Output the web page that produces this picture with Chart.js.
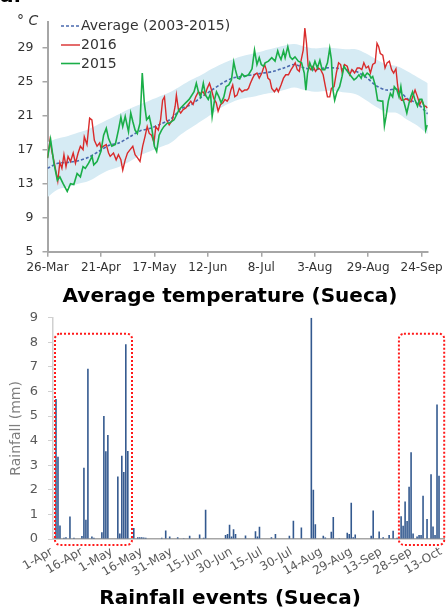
<!DOCTYPE html>
<html><head><meta charset="utf-8">
<script src="https://cdn.jsdelivr.net/npm/chart.js@4/dist/chart.umd.min.js"></script>
<style>
html,body{margin:0;padding:0;background:#fff;}
#wrap{position:relative;width:447px;height:611px;overflow:hidden;background:#fff;}
#c1{position:absolute;left:0;top:0;width:447px;height:311px;}
#c2{position:absolute;left:0;top:300px;width:447px;height:311px;}
</style></head><body>
<div id="wrap">
<canvas id="c1" width="447" height="311"></canvas>
<canvas id="c2" width="447" height="311"></canvas>
</div>
<script>
// ---------- Temperature chart data (day 0 = 26-Mar) ----------
const tempTitle = 'Average temperature (Sueca)';
const tempTickDays = [0, 26, 52, 78, 104, 130, 156, 182];
const tempTickLabels = ['26-Mar', '21-Apr', '17-May', '12-Jun', '8-Jul', '3-Aug', '29-Aug', '24-Sep'];
const tempYTicks = [5, 9, 13, 17, 21, 25, 29];

const bandDays  = [0,5,10,15,20,25,30,35,40,45,50,55,60,65,70,75,80,85,90,95,100,105,110,115,120,125,130,135,140,145,150,155,160,165,170,175,180,185];
const avgTemp   = [14.8,15.4,15.5,15.7,16.1,16.8,17.5,17.8,18.5,19.2,19.5,20.0,20.6,21.8,22.3,23.2,24.0,24.8,25.4,25.6,25.8,26.0,26.2,26.6,27.0,26.6,26.4,26.6,26.6,26.4,26.2,25.5,24.5,24.0,24.1,23.0,22.4,21.2];
const bandUpper = [17.9,18.3,18.6,19.0,19.4,20.0,20.6,21.2,21.8,22.3,22.8,23.3,23.8,24.5,25.2,25.8,26.5,27.1,27.6,28.0,28.3,28.6,28.9,29.2,29.4,29.1,28.9,29.0,28.9,28.8,28.8,28.3,27.6,27.0,26.8,26.2,25.5,24.8];
const bandLower = [11.4,12.3,12.6,13.0,13.3,14.0,14.6,15.0,15.6,16.3,16.8,17.3,17.8,18.8,19.6,20.4,21.2,22.0,22.6,23.0,23.2,23.5,23.7,24.0,24.3,24.0,23.8,23.9,23.9,23.7,23.5,22.8,22.0,21.4,21.3,20.5,19.8,18.8];

const temp2016 = [[0,16],[1.2,18.1],[2.3,16.6],[3.5,15.2],[5,13.3],[6,15.5],[7,14.8],[8,16.4],[9,15],[10,16.2],[11.2,15.6],[12.5,16.6],[13.6,15.4],[14.9,16.6],[16,17.4],[17.3,17],[17.9,18.5],[19.2,17.6],[20.5,20.7],[21.6,20.5],[22.8,18.1],[24.1,17.4],[25.4,17.8],[26,17.2],[27.3,17.4],[28.6,17.6],[29.7,16.6],[30.5,16.2],[32.1,16.6],[33.4,15.8],[34.5,16.4],[35.7,15.8],[36.6,14.6],[37.8,15.8],[38.9,16.6],[40.2,17],[41.5,17.4],[42.6,16.4],[43.9,16],[45,15.6],[46.3,17.4],[47.4,18.5],[48.5,19.7],[49.5,18.9],[50.6,18.7],[51.8,17.8],[52.7,19.7],[53.9,19.3],[55,20.5],[56,22.8],[56.9,23.2],[57.9,20.5],[59.2,19.9],[60.8,20.5],[62.1,22.1],[62.7,23.4],[63.7,21.7],[64.8,21.3],[66,21.7],[67.3,21.9],[68.5,22.3],[69.7,22.7],[70.8,22.3],[72.1,23.2],[73.4,23.8],[74.5,23.6],[75.6,23.8],[76.6,23.4],[77.7,24.2],[78.8,24.8],[79.8,24],[80.9,23],[82.1,22.5],[83,21.5],[84.2,22.3],[85.3,22.5],[86.3,22.9],[87.4,22.7],[88.2,23],[89.2,24],[90.1,24.6],[91.1,23.2],[92.2,23.4],[93.3,24.2],[94.6,23.8],[95.9,24],[97,24],[97.8,24.2],[98.7,24.8],[99.8,25.4],[100.7,25.8],[101.9,26],[103,25.4],[104.3,26],[105.6,27],[106.4,26.4],[107.2,25.4],[108.2,25.2],[109.1,24.2],[110.4,23.8],[111.5,24.2],[112.3,23.8],[113.6,24.6],[114.8,25.4],[115.9,25.8],[117.2,25.8],[118.5,26.4],[119.6,26.8],[120.5,27.2],[121.5,26.4],[122.5,26.2],[123.3,27.4],[124.4,28.7],[125.2,31.3],[126,29.5],[126.8,26.8],[128.1,26.4],[129.2,26.8],[130.4,26.2],[131.7,26.6],[132.9,26.4],[134.1,25.8],[135.2,24.4],[136.2,23.2],[137.3,23.2],[138.1,24.2],[139.4,24.4],[140.5,26],[141.6,27.2],[142.6,27],[143.4,26],[144.5,27],[145.8,26.8],[147,25.8],[148.1,26.4],[149.4,26],[150.7,26.6],[151.8,26.6],[152.9,26.4],[153.9,27.2],[155,26.6],[156.1,26.8],[157.1,26],[158.2,27],[159.4,27.2],[160.3,29.5],[161.1,29.1],[161.9,28.3],[163.1,28.1],[164.2,26.6],[165.2,27.2],[166.3,27.4],[167.4,26.4],[168.4,26],[169.5,26.5],[170.3,24.6],[171.1,23.4],[172.2,22.8],[173.2,22.8],[174.3,23],[175.6,22.8],[176.8,22.6],[177.9,23.4],[178.8,24],[180,23.2],[181.1,22.3],[182.1,22.8],[183.2,22.1],[184,22.1],[184.8,21.9]];

const temp2015 = [[0,16],[1.5,18.2],[3.1,15.4],[4.8,13.4],[6,13.8],[7.6,13],[9.6,12.1],[11.2,13],[12.8,12.9],[14.4,14.2],[16,13.8],[17.3,15],[18.4,14.8],[20,15.4],[21.7,16.2],[22.5,15.2],[24.1,15.6],[26,16.8],[27.3,18.7],[28.6,19.5],[29.7,18.3],[31.3,17.4],[33,17.6],[34.5,19.3],[35.7,20.8],[36.6,19.7],[37.8,20.9],[39.4,19.1],[40.5,21.3],[41.5,20.3],[42.6,19.3],[43.7,18.9],[45,20.1],[46.1,26],[47.1,22.5],[48.2,20.5],[49.5,20.9],[50.6,19.7],[52,17.4],[53.1,16.8],[54.3,18.7],[55.5,19.3],[56.6,19.7],[58.2,20.1],[59.2,20.1],[61.6,20.5],[64,21.7],[66.4,22.3],[68.9,22.9],[71.3,23.8],[72.4,24.8],[73.4,23.8],[74.5,23.2],[75.8,24.8],[76.9,23.4],[78.2,22.9],[79.3,23.6],[80.1,20.9],[81.3,22.9],[82.2,23.8],[83.4,23.2],[84.5,22.5],[85.8,23.2],[86.9,24.4],[88.2,24.6],[89.5,25.2],[90.6,27.3],[91.4,26.4],[92.5,25.4],[93.5,25.3],[94.6,25.9],[95.9,25.6],[97.8,25.8],[99.5,26.5],[100.7,28.7],[101.9,27],[103,27.8],[104,27],[105.1,26.8],[105.9,27.2],[107.5,27.4],[109.1,27.8],[110.7,27.4],[112,28.6],[112.8,28],[113.6,27.6],[114.8,28.6],[115.6,27.8],[116.9,29.1],[118,27.9],[119.1,27.6],[120.4,27.9],[122,27.4],[123.6,27.2],[124.9,26],[125.7,24],[126.5,26],[127.6,27.2],[128.8,26.4],[130.1,27.4],[131.3,26.6],[132.5,27.5],[133.6,26.4],[134.9,26.4],[136.2,27.2],[137.3,28.9],[138.1,27.6],[138.9,24],[139.7,22.8],[140.8,23.8],[142.1,24.4],[143.3,25.6],[144.2,26.8],[145.3,26.4],[146.5,26],[147.8,25.6],[149.1,25.2],[150.2,25.4],[151.5,25.8],[152.6,25.4],[153.4,26],[154.2,25.6],[155.5,26],[156.6,25.8],[157.4,25.4],[158.2,25.6],[159.4,24.6],[160.6,22.8],[162.3,22.7],[163.1,22.7],[163.9,19.8],[164.7,20.9],[165.8,22.7],[166.8,23.6],[167.9,23.2],[168.7,24.4],[170,24],[171,23.2],[171.9,24.4],[172.7,23],[173.5,22.5],[174.8,21.3],[175.9,22.5],[176.7,23.2],[177.6,23.8],[178.7,22.9],[180,22.1],[181.1,22.9],[182.1,22.9],[183.2,22.1],[184,19.3],[184.8,19.9]];

// ---------- Rainfall chart data (day 0 = 1-Apr) ----------
const rainTitle = 'Rainfall events (Sueca)';
const rainDayCount = 196;
const rainTickDays = [0,15,30,45,60,75,90,105,120,135,150,165,180,195];
const rainTickLabels = ['1-Apr','16-Apr','1-May','16-May','31-May','15-Jun','30-Jun','15-Jul','30-Jul','14-Aug','29-Aug','13-Sep','28-Sep','13-Oct'];
const rainDays = [1,2,3,5,6,8,10,14,15,16,17,19,20,24,25,26,27,32,33,34,35,36,37,40,42,43,44,45,46,54,56,58,62,65,68,73,75,76,86,87,88,89,90,91,96,101,102,103,109,111,118,120,124,129,130,131,135,136,139,140,143,147,148,149,150,151,159,160,163,165,168,170,172,174,175,176,177,178,179,180,182,183,184,185,187,189,190,191,192,193];
const rainMm   = [5.7,3.35,0.55,0.05,0.07,0.92,0.05,0.12,2.9,0.78,6.93,0.1,0.05,0.27,5.0,3.57,4.23,2.54,0.22,3.39,2.73,7.92,3.58,0.45,0.07,0.07,0.07,0.06,0.05,0.05,0.35,0.1,0.07,0.03,0.13,0.18,0.05,1.19,0.16,0.2,0.58,0.1,0.4,0.2,0.14,0.32,0.1,0.5,0.07,0.2,0.13,0.74,0.47,9.0,2.0,0.6,0.13,0.06,0.3,0.9,0.03,0.25,0.2,1.47,0.07,0.18,0.13,1.16,0.31,0.07,0.16,0.34,0.05,0.93,0.54,1.53,0.73,2.13,3.53,0.22,0.1,0.16,0.16,1.76,0.81,2.63,0.51,0.16,5.47,2.57];
// highlighted periods (day index range, rainfall range)
const highlightRanges = [[0.5, 39.1], [172.9, 195.6]];
const highlightMm = [-0.24, 8.35];

// ---------- helpers ----------
const FONT = 'DejaVu Sans';
const pts = (xs, ys) => xs.map((x, i) => ({x: x, y: ys[i]}));
const pairs = arr => arr.map(p => ({x: p[0], y: p[1]}));

function drawTitle(chart, text, baseline) {
  const ctx = chart.ctx;
  ctx.save();
  ctx.fillStyle = '#000';
  ctx.font = 'bold 20px ' + FONT;
  ctx.textAlign = 'center';
  ctx.textBaseline = 'alphabetic';
  ctx.fillText(text, 230, baseline);
  ctx.restore();
}

const tempLegend = {
  id: 'tempLegend',
  afterDraw(chart) {
    const ctx = chart.ctx;
    ctx.save();
    ctx.fillStyle = '#000';
    ctx.font = 'bold 20px ' + FONT;
    ctx.textBaseline = 'alphabetic';
    ctx.textAlign = 'left';
    ctx.fillText('a.', 0, 2);
    ctx.fillStyle = '#333';
    ctx.font = 'italic 14px ' + FONT;
    ctx.fillText('° C', 17, 25);
    const rows = [[2, 26], [3, 45], [4, 63.5]];
    ctx.font = '14px ' + FONT;
    ctx.textBaseline = 'middle';
    rows.forEach(([di, y]) => {
      const ds = chart.data.datasets[di];
      ctx.beginPath();
      ctx.strokeStyle = ds.borderColor;
      ctx.lineWidth = ds.borderWidth;
      ctx.setLineDash(ds.borderDash || []);
      ctx.moveTo(61, y);
      ctx.lineTo(80, y);
      ctx.stroke();
      ctx.setLineDash([]);
      ctx.fillStyle = '#333';
      ctx.fillText(ds.label, 81, y + 0.5);
    });
    ctx.restore();
    drawTitle(chart, tempTitle, 301.5);
  }
};

new Chart(document.getElementById('c1'), {
  type: 'line',
  data: {
    datasets: [
      {label: 'band', data: pts(bandDays, bandUpper), fill: '+1', backgroundColor: 'rgb(214,235,244)', borderColor: 'rgba(214,235,244,0)', borderWidth: 0, pointRadius: 0, tension: 0.4, order: 4},
      {label: 'bandLow', data: pts(bandDays, bandLower), fill: false, borderColor: 'rgba(214,235,244,0)', borderWidth: 0, pointRadius: 0, tension: 0.4, order: 4},
      {label: 'Average (2003-2015)', data: pts(bandDays, avgTemp), borderColor: '#4a6aaf', borderDash: [3, 2], borderWidth: 1.6, pointRadius: 0, fill: false, tension: 0.3, order: 3},
      {label: '2016', data: pairs(temp2016), borderColor: '#d92b2b', borderWidth: 1.4, pointRadius: 0, fill: false, tension: 0, order: 2},
      {label: '2015', data: pairs(temp2015), borderColor: '#1aae48', borderWidth: 1.6, pointRadius: 0, fill: false, tension: 0, order: 1}
    ]
  },
  options: {
    responsive: false, animation: false, devicePixelRatio: 1,
    layout: {padding: {top: 22, right: 16.5, left: 0, bottom: 32}},
    plugins: {legend: {display: false}, tooltip: {enabled: false}, title: {display: false}},
    scales: {
      x: {
        type: 'linear', min: 0, max: 185,
        afterBuildTicks: s => { s.ticks = tempTickDays.map(v => ({value: v})); },
        afterFit: s => { s.height = 27.3; },
        ticks: {autoSkip: false, maxRotation: 0, padding: 4, color: '#333',
                font: {family: FONT, size: 12}, callback: (v, i) => tempTickLabels[i]},
        grid: {drawOnChartArea: false, drawTicks: true, tickLength: 5, color: '#a6a6a6', lineWidth: 1.5},
        border: {color: '#a6a6a6', width: 2}
      },
      y: {
        min: 5, max: 32,
        afterBuildTicks: s => { s.ticks = tempYTicks.map(v => ({value: v})); },
        afterFit: s => { s.width = 47.5; },
        ticks: {padding: 9, color: '#333', font: {family: FONT, size: 12.5}},
        grid: {drawOnChartArea: false, drawTicks: true, tickLength: 5, color: '#a6a6a6', lineWidth: 1.5},
        border: {color: '#a6a6a6', width: 2}
      }
    }
  },
  plugins: [tempLegend]
});

// ---------- Rainfall chart ----------
const rainLabels = Array.from({length: rainDayCount}, (_, i) => i);
const rainSeries = new Array(rainDayCount).fill(0);
rainDays.forEach((d, i) => { rainSeries[d] = rainMm[i]; });

const rainDecor = {
  id: 'rainDecor',
  afterDraw(chart) {
    const ctx = chart.ctx, xs = chart.scales.x, ys = chart.scales.y;
    ctx.save();
    // rotated date labels, anchored at the scale's tick positions
    ctx.fillStyle = '#595959';
    ctx.font = '12px ' + FONT;
    ctx.textAlign = 'right';
    ctx.textBaseline = 'middle';
    rainTickDays.forEach((d, i) => {
      const x = xs.getPixelForValue(d) - 2;
      const y = chart.chartArea.bottom + 12;
      ctx.save();
      ctx.translate(x, y);
      ctx.rotate(-Math.PI / 6);
      ctx.fillText(rainTickLabels[i], 0, 0);
      ctx.restore();
    });
    // dotted highlight boxes
    ctx.strokeStyle = '#ff1a1a';
    ctx.lineWidth = 2;
    ctx.setLineDash([2, 2]);
    highlightRanges.forEach(([a, b]) => {
      const x1 = xs.getPixelForValue(a), x2 = xs.getPixelForValue(b);
      const y1 = ys.getPixelForValue(highlightMm[1]), y2 = ys.getPixelForValue(highlightMm[0]);
      ctx.beginPath();
      ctx.roundRect(x1, y1, x2 - x1, y2 - y1, 5);
      ctx.stroke();
    });
    ctx.restore();
    drawTitle(chart, rainTitle, 304);
  }
};

new Chart(document.getElementById('c2'), {
  type: 'bar',
  data: {
    labels: rainLabels,
    datasets: [{label: 'Rainfall', data: rainSeries, backgroundColor: '#33598f', borderWidth: 0,
                barPercentage: 0.8, categoryPercentage: 1}]
  },
  options: {
    responsive: false, animation: false, devicePixelRatio: 1,
    layout: {padding: {top: 17, right: 3, left: 0, bottom: 29}},
    plugins: {legend: {display: false}, tooltip: {enabled: false}, title: {display: false}},
    scales: {
      x: {
        type: 'category', offset: true,
        afterBuildTicks: s => { s.ticks = rainTickDays.map(v => ({value: v})); },
        afterFit: s => { s.height = 43; },
        ticks: {display: false},
        grid: {drawOnChartArea: false, drawTicks: false},
        border: {color: '#a6a6a6', width: 1.5}
      },
      y: {
        min: 0, max: 9,
        ticks: {stepSize: 1, padding: 10, color: '#595959', font: {family: FONT, size: 13}},
        afterFit: s => { s.width = 53; },
        grid: {drawOnChartArea: false, drawTicks: true, tickLength: 5, color: '#d0d0d0'},
        border: {color: '#d0d0d0', width: 1.5},
        title: {display: true, text: 'Rainfall (mm)', color: '#7f7f7f',
                font: {family: FONT, size: 14}, padding: {top: 8, bottom: 0}}
      }
    }
  },
  plugins: [rainDecor]
});
</script>
</body></html>
